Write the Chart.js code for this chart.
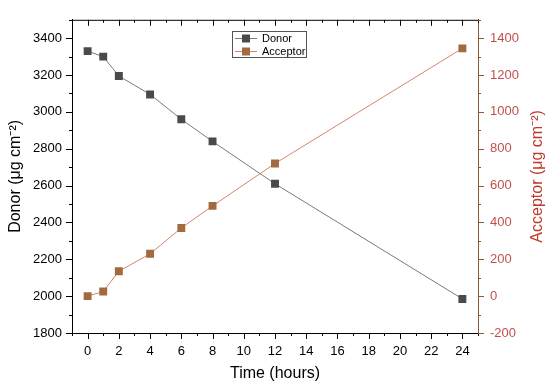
<!DOCTYPE html>
<html>
<head>
<meta charset="utf-8">
<script src="https://cdn.jsdelivr.net/npm/chart.js@4"></script>
<style>
  html, body { margin: 0; padding: 0; background: #fff; }
  #wrap { width: 550px; height: 387px; }
</style>
</head>
<body>
<div id="wrap"><canvas id="chart" width="550" height="387"></canvas></div>
<script>
// data
var hours = [0, 1, 2, 4, 6, 8, 12, 24];
var donor = [3330, 3300, 3195, 3095, 2960, 2840, 2610, 1985];
var acceptor = [0, 25, 135, 230, 370, 490, 720, 1345];

var xTicks = [0, 2, 4, 6, 8, 10, 12, 14, 16, 18, 20, 22, 24];
var donorTicks = [1800, 2000, 2200, 2400, 2600, 2800, 3000, 3200, 3400];
var acceptorTicks = [-200, 0, 200, 400, 600, 800, 1000, 1200, 1400];

var FONT = "'Liberation Sans', Arial, sans-serif";
var BROWN = '#8b5a36';
var RED_TXT = '#c0504d';
var ACC_TITLE = 'Acceptor (μg cm⁻²)';

function pts(xs, ys) {
  return xs.map(function (x, i) { return { x: x, y: ys[i] }; });
}

function setTicks(list) {
  return function (scale) {
    scale.ticks = list.map(function (v) { return { value: v }; });
  };
}

function plain(v) { return String(v); }

// minor/major tick marks, mirrored top axis, right title and legend box
var decor = {
  id: 'decor',
  afterDraw: function (chart) {
    var ctx = chart.ctx, a = chart.chartArea;
    var sx = chart.scales.x, sy = chart.scales.y, sy2 = chart.scales.y2;
    ctx.save();
    ctx.lineWidth = 1;

    // top border
    ctx.strokeStyle = '#000';
    ctx.beginPath();
    ctx.moveTo(a.left, a.top + 0.5);
    ctx.lineTo(a.right, a.top + 0.5);
    ctx.stroke();

    // x ticks bottom (outward) + top (inward)
    for (var v = -1; v <= 25; v++) {
      var px = Math.round(sx.getPixelForValue(v)) + 0.5;
      var len = (v % 2 === 0) ? 6 : 3;
      ctx.beginPath();
      ctx.moveTo(px, a.bottom);
      ctx.lineTo(px, a.bottom + len);
      ctx.moveTo(px, a.top);
      ctx.lineTo(px, a.top + len);
      ctx.stroke();
    }
    // left ticks
    for (var d = 1800; d <= 3500; d += 100) {
      var py = Math.round(sy.getPixelForValue(d)) + 0.5;
      var l = (d % 200 === 0) ? 6 : 3;
      ctx.beginPath();
      ctx.moveTo(a.left, py);
      ctx.lineTo(a.left - l, py);
      ctx.stroke();
    }
    // right ticks
    ctx.strokeStyle = BROWN;
    for (var c = -200; c <= 1500; c += 100) {
      var py2 = Math.round(sy2.getPixelForValue(c)) + 0.5;
      var l2 = (c % 200 === 0) ? 6 : 3;
      ctx.beginPath();
      ctx.moveTo(a.right, py2);
      ctx.lineTo(a.right + l2, py2);
      ctx.stroke();
    }

    // right axis title, reading bottom to top like the left one
    ctx.save();
    ctx.translate(538, (a.top + a.bottom) / 2);
    ctx.rotate(-Math.PI / 2);
    ctx.font = '16px ' + FONT;
    ctx.fillStyle = '#c0392b';
    ctx.textAlign = 'center';
    ctx.textBaseline = 'middle';
    ctx.fillText(ACC_TITLE, 0, 0);
    ctx.restore();

    // legend
    var lx = 232, ly = 31, lw = 74, lh = 26;
    ctx.strokeStyle = '#555';
    ctx.strokeRect(lx + 0.5, ly + 0.5, lw, lh);
    ctx.font = '11px ' + FONT;
    ctx.textBaseline = 'middle';
    chart.data.datasets.forEach(function (ds, i) {
      var yy = ly + 7 + i * 13;
      ctx.strokeStyle = ds.borderColor;
      ctx.beginPath();
      ctx.moveTo(lx + 3, yy + 0.5);
      ctx.lineTo(lx + 25, yy + 0.5);
      ctx.stroke();
      ctx.fillStyle = ds.pointBackgroundColor;
      ctx.fillRect(lx + 10, yy - 3.5, 8, 8);
      ctx.fillStyle = '#000';
      ctx.fillText(ds.label, lx + 30, yy + 1);
    });
    ctx.restore();
  }
};

new Chart(document.getElementById('chart'), {
  type: 'scatter',
  data: {
    datasets: [
      {
        label: 'Donor',
        data: pts(hours, donor),
        yAxisID: 'y',
        showLine: true,
        borderColor: '#7a7a7a',
        borderWidth: 1,
        pointStyle: 'rect',
        pointRadius: 5.6,
        pointBackgroundColor: '#4a4a4a',
        pointBorderColor: '#4a4a4a',
        pointBorderWidth: 0
      },
      {
        label: 'Acceptor',
        data: pts(hours, acceptor),
        yAxisID: 'y2',
        showLine: true,
        borderColor: '#d9826e',
        borderWidth: 1,
        pointStyle: 'rect',
        pointRadius: 5.6,
        pointBackgroundColor: '#a36a40',
        pointBorderColor: '#a36a40',
        pointBorderWidth: 0
      }
    ]
  },
  options: {
    responsive: false,
    animation: false,
    layout: { padding: { top: 10, left: 0, right: 0, bottom: 0 } },
    plugins: { legend: { display: false }, tooltip: { enabled: false } },
    scales: {
      x: {
        type: 'linear',
        min: -1, max: 25,
        afterBuildTicks: setTicks(xTicks),
        afterFit: function (s) { s.height = 54; },
        grid: { display: false, drawTicks: false },
        border: { display: true, color: '#000', width: 1 },
        ticks: { color: '#000', padding: 11, callback: plain,
                 font: { family: FONT, size: 13 } },
        title: { display: true, text: 'Time (hours)', color: '#000',
                 padding: { top: 3 }, font: { family: FONT, size: 16 } }
      },
      y: {
        position: 'left',
        min: 1800, max: 3500,
        afterBuildTicks: setTicks(donorTicks),
        afterFit: function (s) { s.width = 72; },
        grid: { display: false, drawTicks: false },
        border: { display: true, color: '#000', width: 1 },
        ticks: { color: '#000', padding: 10, callback: plain,
                 font: { family: FONT, size: 13 } },
        title: { display: true, text: 'Donor (μg cm⁻²)', color: '#000',
                 padding: { top: 6, bottom: 2 }, font: { family: FONT, size: 16 } }
      },
      y2: {
        position: 'right',
        min: -200, max: 1500,
        afterBuildTicks: setTicks(acceptorTicks),
        afterFit: function (s) { s.width = 72; },
        grid: { display: false, drawTicks: false },
        border: { display: true, color: BROWN, width: 1 },
        ticks: { color: RED_TXT, padding: 12, callback: plain,
                 font: { family: FONT, size: 13 } },
        title: { display: false }
      }
    }
  },
  plugins: [decor]
});
</script>
</body>
</html>
